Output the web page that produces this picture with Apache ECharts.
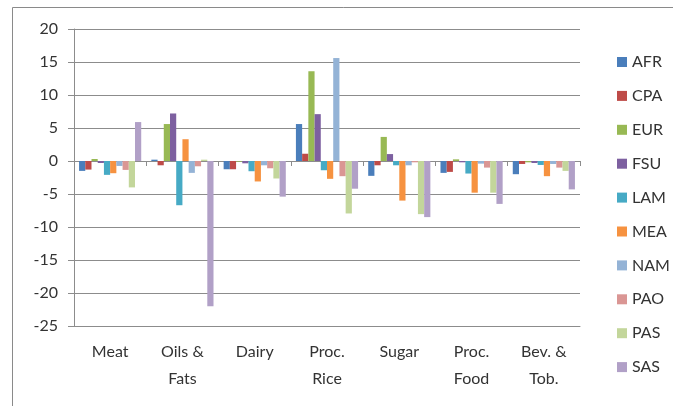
<!DOCTYPE html>
<html>
<head>
<meta charset="utf-8">
<script src="https://cdn.jsdelivr.net/npm/echarts@6/dist/echarts.min.js"></script>
<style>
  html, body { margin: 0; padding: 0; background: #fff; }
  #chart { width: 673px; height: 406px; }
</style>
</head>
<body>
<div id="chart"></div>
<script>
var categories = ['Meat', 'Oils &\nFats', 'Dairy', 'Proc.\nRice', 'Sugar', 'Proc.\nFood', 'Bev. &\nTob.'];
var yTicks = [20, 15, 10, 5, 0, -5, -10, -15, -20, -25];

var AFR = [-1.5, 0.2, -1.25, 5.6, -2.25, -1.8, -2.0];
var CPA = [-1.3, -0.65, -1.25, 1.1, -0.65, -1.65, -0.45];
var EUR = [0.3, 5.6, -0.1, 13.6, 3.65, 0.25, -0.2];
var FSU = [-0.3, 7.2, -0.35, 7.1, 1.05, -0.2, -0.3];
var LAM = [-2.1, -6.7, -1.55, -1.4, -0.65, -1.9, -0.6];
var MEA = [-1.85, 3.3, -3.1, -2.7, -6.0, -4.8, -2.3];
var NAM = [-0.75, -1.8, -0.65, 15.6, -0.65, -0.4, -0.45];
var PAO = [-1.35, -0.8, -1.1, -2.3, -0.2, -1.0, -1.0];
var PAS = [-4.0, 0.2, -2.65, -7.95, -8.05, -4.8, -1.5];
var SAS = [5.9, -22.0, -5.4, -4.2, -8.5, -6.5, -4.3];

var regions = ['AFR', 'CPA', 'EUR', 'FSU', 'LAM', 'MEA', 'NAM', 'PAO', 'PAS', 'SAS'];
var regionData = [AFR, CPA, EUR, FSU, LAM, MEA, NAM, PAO, PAS, SAS];
var colors = ['#4a7ebb', '#be4b48', '#98b954', '#7d60a0', '#46aac5',
              '#f69240', '#94b3d6', '#da9694', '#c3d69b', '#b1a0c7'];

var font = 'Lato, "Open Sans", sans-serif';
var gray = '#8c8c8c';

var myChart = echarts.init(document.getElementById('chart'));

var series = regions.map(function (name, i) {
  return {
    name: name,
    type: 'bar',
    xAxisIndex: 0,
    barGap: 0,
    barCategoryGap: '14%',
    itemStyle: { color: colors[i] },
    data: regionData[i]
  };
});

var option = {
  animation: false,
  color: colors,
  graphic: [{
    type: 'rect',
    shape: { x: 12.5, y: 7.5, width: 700, height: 420 },
    style: { fill: 'none', stroke: '#8a8a8a', lineWidth: 1 },
    silent: true
  }],
  grid: { left: 74, top: 29, width: 506, height: 297 },
  legend: {
    orient: 'vertical',
    left: 612,
    top: 49,
    icon: 'rect',
    itemWidth: 10,
    itemHeight: 10,
    itemGap: 17.9,
    textStyle: { fontFamily: font, fontSize: 16, color: '#333', lineHeight: 16 },
    data: regions
  },
  xAxis: [
    {
      type: 'category',
      data: categories,
      position: 'bottom',
      axisLine: { onZero: false, lineStyle: { color: gray } },
      axisTick: { show: false },
      axisLabel: {
        interval: 0,
        margin: 12,
        fontFamily: font,
        fontSize: 16,
        lineHeight: 27,
        color: '#333'
      }
    },
    {
      type: 'category',
      data: categories,
      position: 'bottom',
      axisLine: { onZero: true, lineStyle: { color: gray } },
      axisTick: { show: true, length: 5, lineStyle: { color: gray } },
      axisLabel: { show: false }
    }
  ],
  yAxis: {
    type: 'value',
    min: yTicks[yTicks.length - 1],
    max: yTicks[0],
    interval: 5,
    axisLine: { show: true, lineStyle: { color: gray } },
    axisTick: { show: true, length: 6, lineStyle: { color: gray } },
    splitLine: { lineStyle: { color: gray } },
    axisLabel: {
      margin: 16,
      fontFamily: font,
      fontSize: 16,
      color: '#333'
    }
  },
  series: series
};

myChart.setOption(option);
</script>
</body>
</html>
